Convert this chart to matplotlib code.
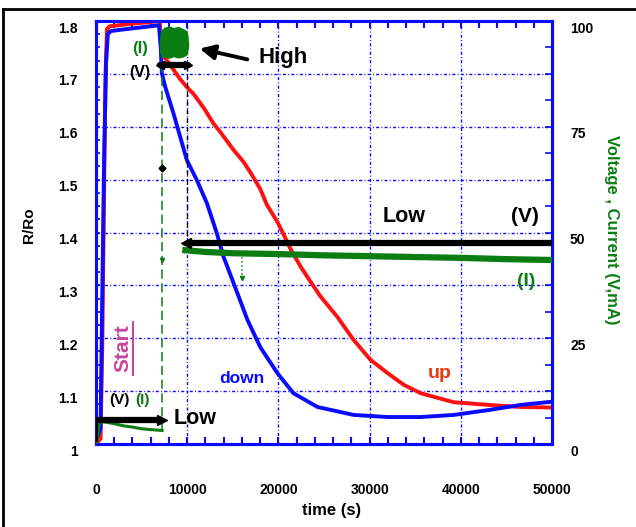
import matplotlib
matplotlib.use('Agg')
import matplotlib.pyplot as plt
from matplotlib.ticker import MultipleLocator, FixedLocator
from matplotlib.lines import Line2D
from matplotlib.patches import FancyArrowPatch
import matplotlib.transforms as mtransforms

plt.rcParams['font.family'] = ['Liberation Sans', 'DejaVu Sans']
plt.rcParams['font.weight'] = 'bold'

# ---------------- data ----------------
up_t = [0, 500, 700, 900, 1050, 1200, 1500, 2000, 4000, 6000, 7000, 7150,
        8130, 9230, 9960, 10700, 11800, 12890, 13630, 15090, 16200, 16920,
        18020, 18750, 19890, 20580, 21320, 22420, 23520, 24620, 26480,
        28240, 30110, 31980, 33740, 35600, 39230, 42970, 46590, 50000]
up_r = [1.0, 1.01, 1.2, 1.5, 1.7, 1.785, 1.79, 1.791, 1.795, 1.798, 1.8, 1.74,
        1.717, 1.690, 1.675, 1.662, 1.636, 1.606, 1.590, 1.556, 1.533, 1.514,
        1.482, 1.452, 1.420, 1.396, 1.369, 1.336, 1.307, 1.279, 1.240,
        1.197, 1.159, 1.134, 1.112, 1.096, 1.079, 1.074, 1.070, 1.069]

down_t = [0, 300, 500, 700, 900, 1100, 1300, 1600, 3000, 5000, 6900, 7100,
          7220, 7580, 8500, 9230, 9960, 11060, 12170, 13260, 13990, 15090,
          15640, 16600, 18020, 19890, 21650, 24290, 28240, 31980, 35600,
          39230, 42970, 46590, 50000]
down_r = [1.01, 1.02, 1.03, 1.3, 1.55, 1.72, 1.775, 1.781, 1.784, 1.788, 1.792, 1.75,
          1.701, 1.676, 1.625, 1.581, 1.537, 1.499, 1.455, 1.398, 1.354, 1.304,
          1.279, 1.235, 1.183, 1.134, 1.096, 1.070, 1.055, 1.051, 1.051,
          1.055, 1.064, 1.074, 1.080]

# current (I), right axis
i_low_t = [0, 150, 300, 600, 1000, 2000, 3000, 4000, 5000, 6000, 7250]
i_low = [0, 1.5, 4.5, 5.3, 5.2, 4.8, 4.3, 4.0, 3.6, 3.4, 3.2]
i_high_t = [7050, 7150, 7500, 8000, 8500, 9000, 9500, 9900, 10050]
i_high_top = [95.0, 97.5, 98.3, 98.6, 98.2, 98.5, 98.0, 97.5, 95.0]
i_high_bot = [93.0, 92.0, 91.6, 91.4, 91.8, 91.5, 91.7, 92.2, 94.0]
i_after_t = [9800, 12000, 15000, 20000, 25000, 30000, 35000, 40000, 45000, 50000]
i_after = [45.8, 45.4, 45.1, 44.9, 44.6, 44.4, 44.2, 44.0, 43.7, 43.5]

# voltage (V), right axis
v_low1_t = [0, 7250]
v_low1 = [5.7, 5.7]
v_high_t = [7030, 10100]
v_high = [89.6, 89.6]
v_low2_t = [9900, 50000]
v_low2 = [47.4, 47.4]

x_ticks = [0, 10000, 20000, 30000, 40000, 50000]
x_labels = ['0', '10000', '20000', '30000', '40000', '50000']
y_ticks = [1.0, 1.1, 1.2, 1.3, 1.4, 1.5, 1.6, 1.7, 1.8]
y_labels = ['1', '1.1', '1.2', '1.3', '1.4', '1.5', '1.6', '1.7', '1.8']
r_ticks = [0, 25, 50, 75, 100]
r_labels = ['0', '25', '50', '75', '100']

BLUE = '#0a0aff'
RED = '#ff1010'
GREEN = '#0b7d12'
GRID_LS = (0, (2.2, 1.6, 0.7, 1.6))

W, H = 636, 527
fig = plt.figure(figsize=(W / 100, H / 100), dpi=100)
ax = fig.add_axes([96 / W, 1 - 444 / H, 456 / W, 423 / H])
ax2 = ax.twinx()

ax.set_xlim(0, 50000)
ax.set_ylim(1.0, 1.8)
ax2.set_ylim(0, 100)

# grid
for xv in x_ticks[1:-1]:
    ax.axvline(xv, color=BLUE, lw=1, ls=GRID_LS, zorder=0.5)
for yv in y_ticks[1:-1]:
    ax.axhline(yv, color=BLUE, lw=1, ls=GRID_LS, zorder=0.5)

# R/Ro curves
ax.plot(up_t, up_r, color=RED, lw=2.8, zorder=3, solid_joinstyle='round')
ax.plot(down_t, down_r, color=BLUE, lw=2.8, zorder=3, solid_joinstyle='round')

# I (right axis)
ax2.plot(i_low_t, i_low, color=GREEN, lw=2.2, zorder=3)
ax2.plot([7250, 7250], [i_low[-1], i_high_bot[1]], color=GREEN, lw=1.1,
         ls=(0, (6, 3)), zorder=2)
ax2.fill_between(i_high_t, i_high_bot, i_high_top, color=GREEN, lw=1.5,
                 edgecolor=GREEN, zorder=3)
ax2.plot(i_after_t, i_after, color=GREEN, lw=4.5, zorder=3)
ax2.plot([16000, 16000], [44.3, 39.2], color=GREEN, lw=1.1, ls=':', zorder=3)
ax2.plot([16000], [39.2], marker='v', color=GREEN, ms=3, zorder=3)
ax2.plot([7250], [43.5], marker='v', color=GREEN, ms=3, zorder=3)

# V (right axis)
ax2.plot(v_low1_t, v_low1, color='black', lw=4.5, solid_capstyle='butt', zorder=4)
ax2.plot([v_low1_t[-1]], [v_low1[-1]], marker='>', color='black', ms=7, zorder=4)
ax2.plot([0, 0], [1.0, v_low1[0]], color='black', lw=2, zorder=4)
ax2.plot(v_high_t, v_high, color='black', lw=4.5, solid_capstyle='round', zorder=4)
ax2.plot([v_high_t[-1]], [v_high[-1]], marker='>', color='black', ms=6, zorder=4)
ax2.plot([v_high_t[0]], [v_high[0]], marker='<', color='black', ms=6, zorder=4)
ax2.plot([10000, 10000], [v_high[0], v_low2[0]], color='black', lw=0.9,
         ls=(0, (4, 3)), zorder=2)
ax2.plot(v_low2_t, v_low2, color='black', lw=4.5, solid_capstyle='butt', zorder=4)
ax2.plot([v_low2_t[0]], [v_low2[0]], marker='<', color='black', ms=7, zorder=4)
ax2.plot([7250], [65.2], marker='D', color='black', ms=3.5, zorder=4)

# axes styling
for a in (ax, ax2):
    for s in a.spines.values():
        s.set_color(BLUE)
        s.set_linewidth(2.2)

ax.xaxis.set_major_locator(FixedLocator(x_ticks))
ax.set_xticklabels(x_labels)
ax.xaxis.set_minor_locator(MultipleLocator(2000))
ax.yaxis.set_major_locator(FixedLocator(y_ticks))
ax.set_yticklabels(y_labels)
ax.yaxis.set_minor_locator(MultipleLocator(0.025))
ax2.yaxis.set_major_locator(FixedLocator(r_ticks))
ax2.set_yticklabels(r_labels)
ax2.yaxis.set_minor_locator(MultipleLocator(6.25))

ax.tick_params(axis='x', which='both', direction='in', top=True, bottom=True,
               color=BLUE, length=5, width=1.5, pad=28, labelsize=10)
ax.tick_params(axis='y', which='both', direction='in', left=True, right=False,
               color=BLUE, length=3, width=1.2, pad=13, labelsize=10)
ax2.tick_params(axis='y', which='both', direction='in', right=True,
                color=BLUE, length=5, width=1.2, pad=13, labelsize=10)

off = mtransforms.ScaledTranslation(0, -0.06, fig.dpi_scale_trans)
for lab in ax.get_yticklabels() + ax2.get_yticklabels():
    lab.set_transform(lab.get_transform() + off)
    lab.set_fontweight('bold')
for lab in ax.get_xticklabels():
    lab.set_fontweight('bold')


def px(x, y):
    return x / W, 1 - y / H


# axis labels
fig.text(*px(29.5, 225), 'R/Ro', rotation=90, ha='center', va='center',
         fontsize=11, fontweight='bold')
fig.text(*px(332, 510), 'time (s)', ha='center', va='center',
         fontsize=12, fontweight='bold')
fig.text(*px(612, 230), 'Voltage , Current (V,mA)', rotation=270, ha='center',
         va='center', fontsize=12, fontweight='bold', color=GREEN)

# annotations
fig.text(*px(140, 49), '(I)', ha='center', va='center', fontsize=12,
         fontweight='bold', color=GREEN)
fig.text(*px(140, 72), '(V)', ha='center', va='center', fontsize=11.5,
         fontweight='bold', color='black')
fig.text(*px(258, 58), 'High', ha='left', va='center', fontsize=16,
         fontweight='bold', color='black')
fig.add_artist(FancyArrowPatch(
    px(250, 60), px(197, 48), transform=fig.transFigure, arrowstyle='-|>',
    mutation_scale=22, lw=2.8, color='black'))
fig.text(*px(404, 216), 'Low', ha='center', va='center', fontsize=15.5,
         fontweight='bold', color='black')
fig.text(*px(525, 216), '(V)', ha='center', va='center', fontsize=15,
         fontweight='bold', color='black')
fig.text(*px(526, 282), '(I)', ha='center', va='center', fontsize=14,
         fontweight='bold', color=GREEN)
fig.text(*px(440, 378), 'up', ha='center', va='baseline', fontsize=14,
         fontweight='bold', color='#e8380d')
fig.text(*px(242, 383), 'down', ha='center', va='baseline', fontsize=12.5,
         fontweight='bold', color=BLUE)
fig.text(*px(123, 348), 'Start', rotation=90, ha='center', va='center',
         fontsize=15, fontweight='bold', color='#c8469b')
fig.add_artist(Line2D([133 / W, 133 / W], [1 - 322 / H, 1 - 375 / H],
                      transform=fig.transFigure, color='#c8469b', lw=1.5))
fig.text(*px(119, 400), '(V)', ha='center', va='center', fontsize=11,
         fontweight='bold', color='black')
fig.text(*px(142, 400), '(I)', ha='center', va='center', fontsize=11,
         fontweight='bold', color=GREEN)
fig.text(*px(195, 418), 'Low', ha='center', va='center', fontsize=15.5,
         fontweight='bold', color='black')

# outer frame (left and top edges)
fig.add_artist(Line2D([3 / W, 3 / W], [0, 1 - 9 / H], transform=fig.transFigure,
                      color='black', lw=2))
fig.add_artist(Line2D([3 / W, 1], [1 - 9 / H, 1 - 9 / H], transform=fig.transFigure,
                      color='black', lw=2))

fig.savefig('out.png', dpi=100)
